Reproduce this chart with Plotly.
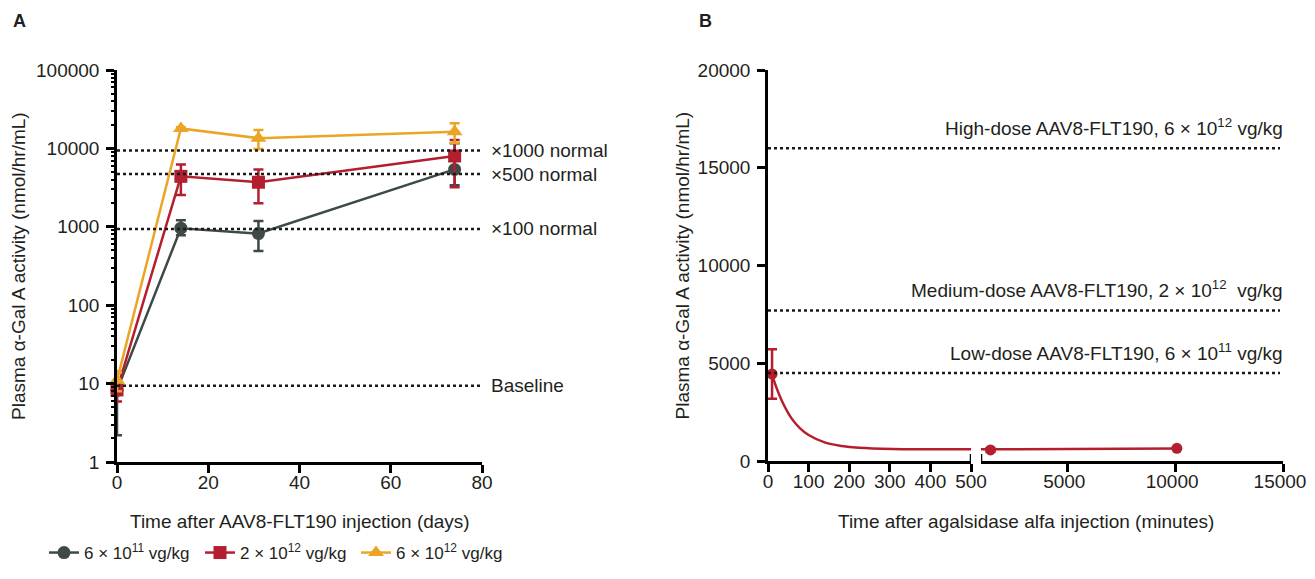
import numpy as np
import plotly.graph_objects as go

# The page body has an 8px margin; lay out in screen pixels and convert.
OFF = 8
W, H = 1299, 563
FONT = "Arial, Liberation Sans, Helvetica, sans-serif"
TXT = "#231f20"
FS = 19

# ---------------- Panel A data ----------------
days = [0, 14, 31, 74]
low_mean = [8.2, 960, 820, 5400]
low_err_plus = [6.0, 250, 370, 6200]
low_err_minus = [6.0, 180, 330, 2000]
mid_mean = [8.3, 4400, 3700, 8000]
mid_err = [2.4, 1850, 1700, 4800]
high_mean = [11, 18000, 13500, 16300]
high_err = [3, 600, 3700, 4600]

series_names = ["6 × 10<sup>11</sup> vg/kg", "2 × 10<sup>12</sup> vg/kg", "6 × 10<sup>12</sup> vg/kg"]
series_colors = ["#3e4a48", "#b31f2e", "#eba526"]
series_symbols = ["circle", "square", "triangle-up"]

normal_level = 9.4
ref_mult = [1, 100, 500, 1000]
ref_labels = ["Baseline", "×100 normal", "×500 normal", "×1000 normal"]

a_yticks = [1, 10, 100, 1000, 10000, 100000]
a_xticks = [0, 20, 40, 60, 80]

# ---------------- Panel B data ----------------
curve_t = [10, 17, 37, 58, 79, 100, 141, 182, 224, 307, 390, 500]
curve_v = [4450, 3970, 2950, 2180, 1670, 1330, 940, 770, 680, 615, 600, 598]
pt1_t = [10]
pt1_v = [4450]
pt1_err = [1270]
late_fit_t = [1000, 10080]
late_fit_v = [598, 640]
pt2_t = [1440, 10080]
pt2_v = [565, 650]
pt2_err = [90, 40]

b_ref_vals = [16000, 7700, 4500]
b_ref_labels = ["High-dose AAV8-FLT190, 6 × 10<sup>12</sup> vg/kg",
                "Medium-dose AAV8-FLT190, 2 × 10<sup>12</sup>  vg/kg",
                "Low-dose AAV8-FLT190, 6 × 10<sup>11</sup> vg/kg"]
b_yticks = [0, 5000, 10000, 15000, 20000]
b_xticks1 = [0, 100, 200, 300, 400, 500]
b_xticks2 = [5000, 10000, 15000]
b_x2_start = 1000

# ---------------- layout geometry (screen pixels -> paper) ----------------
def px(x):
    return (x - OFF) / W

def py(y):
    return 1 - (y - OFF) / H

xA_dom = [px(117), px(482)]
yA_dom = [py(462), py(70)]
xB1_dom = [px(768), px(971)]
xB2_dom = [px(981), px(1283)]
yB_dom = [py(461), py(70)]

fig = go.Figure()

LW = 2.5
# reference lines panel A (on the overlay axis carrying the minor ticks)
for m in ref_mult:
    v = normal_level * m
    fig.add_trace(go.Scatter(x=[a_xticks[0], a_xticks[-1]], y=[v, v], mode="lines",
                             line=dict(color="#1a1a1a", width=2.5, dash="dot"),
                             showlegend=False, hoverinfo="skip", xaxis="x", yaxis="y4"))

means = [low_mean, mid_mean, high_mean]
errp = [low_err_plus, mid_err, high_err]
errm = [low_err_minus, mid_err, high_err]
msize = [13, 13, 14]
for i in range(3):
    fig.add_trace(go.Scatter(
        x=days, y=means[i], mode="lines+markers", name=series_names[i],
        line=dict(color=series_colors[i], width=LW),
        marker=dict(symbol=series_symbols[i], size=msize[i], color=series_colors[i]),
        error_y=dict(type="data", symmetric=False, array=errp[i], arrayminus=errm[i],
                     color=series_colors[i], thickness=2.5, width=5),
        cliponaxis=False, xaxis="x", yaxis="y"))

# panel B traces
red = series_colors[1]
fig.add_trace(go.Scatter(x=curve_t, y=curve_v, mode="lines", line=dict(color=red, width=LW, shape="spline"),
                         showlegend=False, xaxis="x2", yaxis="y2", cliponaxis=False))
fig.add_trace(go.Scatter(x=pt1_t, y=pt1_v, mode="markers", marker=dict(color=red, size=11),
                         error_y=dict(type="data", array=pt1_err, color=red, thickness=2.5, width=5),
                         showlegend=False, xaxis="x2", yaxis="y2", cliponaxis=False))
fig.add_trace(go.Scatter(x=late_fit_t, y=late_fit_v, mode="lines", line=dict(color=red, width=LW),
                         showlegend=False, xaxis="x3", yaxis="y2", cliponaxis=False))
fig.add_trace(go.Scatter(x=pt2_t, y=pt2_v, mode="markers", marker=dict(color=red, size=11),
                         error_y=dict(type="data", array=pt2_err, color=red, thickness=2.5, width=5),
                         showlegend=False, xaxis="x3", yaxis="y2", cliponaxis=False))

shapes = []
for v in b_ref_vals:
    shapes.append(dict(type="line", xref="paper", yref="y2", x0=xB1_dom[0], x1=xB2_dom[1] - 3 / W,
                       y0=v, y1=v, line=dict(color="#1a1a1a", width=2.5, dash="dot")))
# axis break marks
for xr, xv in [("x2", b_xticks1[-1]), ("x3", b_x2_start)]:
    shapes.append(dict(type="line", xref=xr, yref="y2", x0=xv, x1=xv, ysizemode="pixel", yanchor=0,
                       y0=-7, y1=7, line=dict(color="black", width=2.5)))

tf = dict(size=FS, color=TXT, family=FONT)
annotations = []
for m, lab in zip(ref_mult, ref_labels):
    annotations.append(dict(x=a_xticks[-1], y=np.log10(normal_level * m), xref="x", yref="y", text=lab,
                            showarrow=False, xanchor="left", yanchor="middle", xshift=7, font=tf))
for v, lab in zip(b_ref_vals, b_ref_labels):
    annotations.append(dict(x=b_xticks2[-1], y=v, xref="x3", yref="y2", text=lab, showarrow=False,
                            xanchor="right", yanchor="bottom", yshift=7, xshift=2, font=tf))
annotations += [
    dict(x=px(11), y=py(21), xref="paper", yref="paper", text="<b>A</b>", showarrow=False,
         xanchor="left", yanchor="middle", font=dict(size=18, color=TXT, family=FONT)),
    dict(x=px(697), y=py(21), xref="paper", yref="paper", text="<b>B</b>", showarrow=False,
         xanchor="left", yanchor="middle", font=dict(size=18, color=TXT, family=FONT)),
    dict(x=(xA_dom[0] + xA_dom[1]) / 2, y=py(521), xref="paper", yref="paper",
         text="Time after AAV8-FLT190 injection (days)", showarrow=False,
         xanchor="center", yanchor="middle", font=tf),
    dict(x=(xB1_dom[0] + xB2_dom[1]) / 2, y=py(521), xref="paper", yref="paper",
         text="Time after agalsidase alfa injection (minutes)", showarrow=False,
         xanchor="center", yanchor="middle", font=tf),
    dict(x=px(19), y=(yA_dom[0] + yA_dom[1]) / 2, xref="paper", yref="paper",
         text="Plasma α-Gal A activity (nmol/hr/mL)", showarrow=False, textangle=-90,
         xanchor="center", yanchor="middle", font=tf),
    dict(x=px(682), y=(yB_dom[0] + yB_dom[1]) / 2, xref="paper", yref="paper",
         text="Plasma α-Gal A activity (nmol/hr/mL)", showarrow=False, textangle=-90,
         xanchor="center", yanchor="middle", font=tf),
]

minor_vals = [d * 10 ** e for e in range(0, 5) for d in range(2, 10)]
common = dict(showline=True, linecolor="black", linewidth=2.5, ticks="outside", ticklen=8, tickwidth=2.5,
              tickcolor="black", showgrid=False, zeroline=False, tickfont=tf, automargin=False,
              ticklabeloverflow="allow")

fig.update_layout(
    width=W, height=H, margin=dict(l=0, r=0, t=0, b=0, autoexpand=False),
    paper_bgcolor="white", plot_bgcolor="white",
    font=dict(family=FONT, size=FS, color=TXT),
    showlegend=True,
    legend=dict(orientation="h", x=px(44), y=0, xanchor="left", yanchor="bottom",
                font=dict(size=17, color=TXT, family=FONT), entrywidth=111, entrywidthmode="pixels",
                bgcolor="rgba(0,0,0,0)"),
    xaxis=dict(domain=xA_dom, range=[a_xticks[0], a_xticks[-1]], anchor="y", tickvals=a_xticks,
               ticklabelstandoff=-7, **common),
    yaxis=dict(domain=yA_dom, type="log", range=[0, 5], anchor="x", tickvals=a_yticks,
               ticktext=[str(t) for t in a_yticks], ticklabelstandoff=3, **common),
    yaxis4=dict(domain=yA_dom, type="log", range=[0, 5], anchor="x", overlaying="y", side="left",
                tickvals=minor_vals, showticklabels=False, ticks="outside", ticklen=5, tickwidth=2,
                tickcolor="black", showline=False, showgrid=False, zeroline=False, automargin=False),
    xaxis2=dict(domain=xB1_dom, range=[b_xticks1[0], b_xticks1[-1]], anchor="y2", tickvals=b_xticks1,
                ticklabelstandoff=-7, **common),
    xaxis3=dict(domain=xB2_dom, range=[b_x2_start, b_xticks2[-1]], anchor="y2", tickvals=b_xticks2,
                ticktext=[str(t) for t in b_xticks2], ticklabelstandoff=-7, ticklabelshift=-3, **common),
    yaxis2=dict(domain=yB_dom, range=[b_yticks[0], b_yticks[-1]], anchor="x2", tickvals=b_yticks,
                ticktext=[str(t) for t in b_yticks], ticklabelstandoff=3, **common),
    shapes=shapes, annotations=annotations,
)

fig.write_html("out.html")
